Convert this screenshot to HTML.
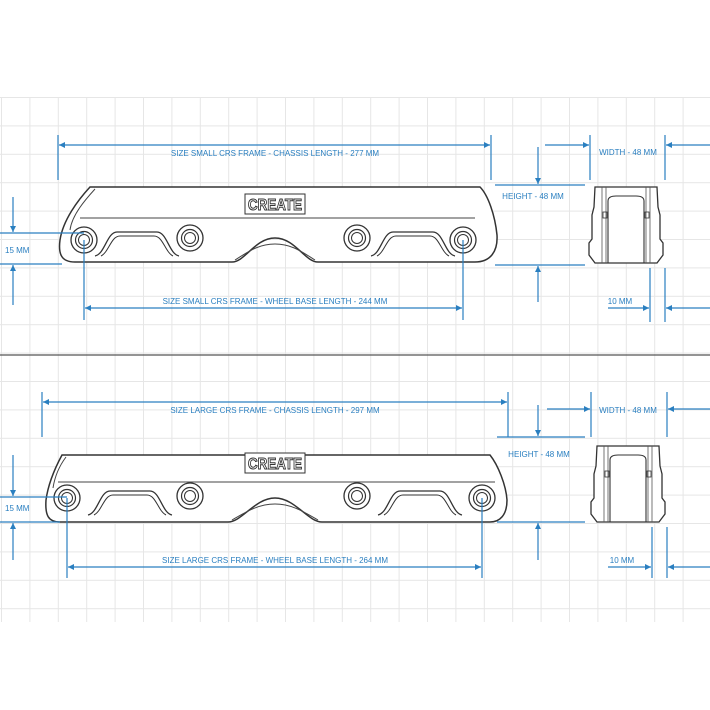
<!DOCTYPE html>
<html><head><meta charset="utf-8"><style>
html,body{margin:0;padding:0;background:#fff;}
svg{display:block}
text{font-family:"Liberation Sans",sans-serif;font-size:8px;fill:#2a7fc0;}
</style></head><body>
<svg width="710" height="710" viewBox="0 0 710 710" xmlns="http://www.w3.org/2000/svg">
<defs>
<pattern id="g" x="1" y="97" width="28.4" height="28.4" patternUnits="userSpaceOnUse">
<path d="M0,0 H28.4 M0,0 V28.4" stroke="#e6e6e6" stroke-width="2" fill="none"/>
</pattern>
<marker id="a" viewBox="0 0 10 10" refX="10" refY="5" markerWidth="9" markerHeight="6" orient="auto" markerUnits="userSpaceOnUse">
<path d="M0,0 L10,5 L0,10 Z" fill="#2a7fc0"/></marker>
<g id="wheel"><circle r="13" fill="#fff" stroke="#333" stroke-width="1.3"/><circle r="8.5" fill="none" stroke="#333" stroke-width="1.2"/><circle r="5.5" fill="none" stroke="#333" stroke-width="1"/></g>
<g id="slot"><path d="M-42,18 C-32,16 -30,-6 -20,-6 L20,-6 C30,-6 32,16 42,18" fill="none" stroke="#333" stroke-width="1.3"/><path d="M-36,18 C-28,14 -26,-2 -17,-2 L17,-2 C26,-2 28,14 36,18" fill="none" stroke="#333" stroke-width="1"/></g>
<g id="logo"><rect x="-30" y="-10" width="60" height="20" fill="#fff" stroke="#333" stroke-width="1"/><text x="-27" y="6" textLength="54" lengthAdjust="spacingAndGlyphs" style="font-size:16px;font-weight:bold;fill:#fff;stroke:#333;stroke-width:1">CREATE</text></g>
<g id="end"><path d="M5,0 L67,0 L68,20 L70,28 L70,52 L73,56 L73,68 L67,76 L5,76 L-1,68 L-1,56 L2,52 L2,28 L4,20 Z" fill="#fff" stroke="#333" stroke-width="1.3"/><path d="M12,0 V76 M60,0 V76 M16,0 V76 M56,0 V76" stroke="#555" stroke-width="0.8"/><path d="M18,76 V14 C18,10 22,9 26,9 L46,9 C50,9 54,10 54,14 V76" fill="none" stroke="#333" stroke-width="1.1"/><rect x="13" y="25" width="4" height="6" fill="none" stroke="#333" stroke-width="0.8"/><rect x="55" y="25" width="4" height="6" fill="none" stroke="#333" stroke-width="0.8"/></g>
</defs>
<rect width="710" height="710" fill="#fff"/>
<rect x="0" y="97" width="710" height="525" fill="url(#g)"/>
<line x1="0" y1="355" x2="710" y2="355" stroke="#555" stroke-width="1.3"/>

<!-- SMALL FRAME -->
<path d="M90,187 L480,187 C488,195 495,215 497,235 C498,252 490,262 475,262 L318,262 C305,262 295,238 275,238 C255,238 245,262 232,262 L75,262 C62,262 58,255 60,240 C63,220 78,200 90,187 Z" fill="#fff" stroke="#333" stroke-width="1.5"/>
<path d="M95,189 C85,200 72,215 70,230 M80,218 L475,218 M235,260 C248,252 258,244 275,244 C292,244 302,252 315,260" fill="none" stroke="#444" stroke-width="1"/>
<use href="#logo" x="275" y="204"/>
<use href="#slot" x="137" y="238"/><use href="#slot" x="413" y="238"/>
<use href="#wheel" x="84" y="240"/><use href="#wheel" x="190" y="238"/><use href="#wheel" x="357" y="238"/><use href="#wheel" x="463" y="240"/>
<use href="#end" x="590" y="187"/>

<g stroke="#2a7fc0" stroke-width="1.2" fill="none">
<path d="M58,135 V180 M491,135 V180"/>
<line x1="300" y1="145" x2="59" y2="145" marker-end="url(#a)"/><line x1="300" y1="145" x2="490" y2="145" marker-end="url(#a)"/>
<path d="M495,185 H585 M495,265 H585 M590,135 V180 M665,135 V180 M650,268 V322 M665,268 V322"/>
<line x1="538" y1="147" x2="538" y2="184" marker-end="url(#a)"/><line x1="538" y1="302" x2="538" y2="266" marker-end="url(#a)"/>
<line x1="545" y1="145" x2="589" y2="145" marker-end="url(#a)"/><line x1="710" y1="145" x2="666" y2="145" marker-end="url(#a)"/>
<line x1="608" y1="308" x2="649" y2="308" marker-end="url(#a)"/><line x1="710" y1="308" x2="666" y2="308" marker-end="url(#a)"/>
<path d="M0,233 H84 M0,264 H62 M84,240 V320 M463,240 V320"/>
<line x1="13" y1="197" x2="13" y2="232" marker-end="url(#a)"/><line x1="13" y1="305" x2="13" y2="265" marker-end="url(#a)"/>
<line x1="270" y1="308" x2="85" y2="308" marker-end="url(#a)"/><line x1="270" y1="308" x2="462" y2="308" marker-end="url(#a)"/>
</g>
<text x="275" y="156" text-anchor="middle">SIZE SMALL  CRS FRAME  -  CHASSIS LENGTH  -  277 MM</text>
<text x="533" y="199" text-anchor="middle">HEIGHT  -  48 MM</text>
<text x="628" y="155" text-anchor="middle">WIDTH  -  48 MM</text>
<text x="620" y="304" text-anchor="middle">10 MM</text>
<text x="5" y="253">15 MM</text>
<text x="275" y="304" text-anchor="middle">SIZE SMALL  CRS FRAME  -  WHEEL BASE LENGTH  -  244 MM</text>

<!-- LARGE FRAME -->
<path d="M62,455 L490,455 C498,465 506,485 507,500 C507,515 500,522 490,522 L322,522 C308,522 295,498 275,498 C255,498 242,522 228,522 L60,522 C48,522 45,515 46,500 C48,485 55,468 62,455 Z" fill="#fff" stroke="#333" stroke-width="1.5"/>
<path d="M66,457 C60,465 55,475 53,488 M58,482 L495,482 M232,520 C246,512 258,504 275,504 C292,504 304,512 318,520" fill="none" stroke="#444" stroke-width="1"/>
<use href="#logo" x="275" y="463"/>
<use href="#slot" x="130" y="497"/><use href="#slot" x="420" y="497"/>
<use href="#wheel" x="67" y="498"/><use href="#wheel" x="190" y="496"/><use href="#wheel" x="357" y="496"/><use href="#wheel" x="482" y="498"/>
<use href="#end" x="592" y="446"/>

<g stroke="#2a7fc0" stroke-width="1.2" fill="none">
<path d="M42,392 V437 M508,392 V437"/>
<line x1="275" y1="402" x2="43" y2="402" marker-end="url(#a)"/><line x1="275" y1="402" x2="507" y2="402" marker-end="url(#a)"/>
<path d="M497,437 H585 M497,522 H585 M591,392 V437 M667,392 V437 M652,527 V578 M667,527 V578"/>
<line x1="538" y1="405" x2="538" y2="436" marker-end="url(#a)"/><line x1="538" y1="560" x2="538" y2="523" marker-end="url(#a)"/>
<line x1="547" y1="409" x2="590" y2="409" marker-end="url(#a)"/><line x1="710" y1="409" x2="668" y2="409" marker-end="url(#a)"/>
<line x1="608" y1="567" x2="651" y2="567" marker-end="url(#a)"/><line x1="710" y1="567" x2="668" y2="567" marker-end="url(#a)"/>
<path d="M0,497 H67 M0,522 H60 M67,498 V578 M482,498 V578"/>
<line x1="13" y1="455" x2="13" y2="496" marker-end="url(#a)"/><line x1="13" y1="560" x2="13" y2="523" marker-end="url(#a)"/>
<line x1="270" y1="567" x2="68" y2="567" marker-end="url(#a)"/><line x1="270" y1="567" x2="481" y2="567" marker-end="url(#a)"/>
</g>
<text x="275" y="413" text-anchor="middle">SIZE LARGE  CRS FRAME  -  CHASSIS LENGTH  -  297 MM</text>
<text x="539" y="457" text-anchor="middle">HEIGHT  -  48 MM</text>
<text x="628" y="413" text-anchor="middle">WIDTH  -  48 MM</text>
<text x="622" y="563" text-anchor="middle">10 MM</text>
<text x="5" y="511">15 MM</text>
<text x="275" y="563" text-anchor="middle">SIZE LARGE  CRS FRAME  -  WHEEL BASE LENGTH  -  264 MM</text>
</svg>
</body></html>
